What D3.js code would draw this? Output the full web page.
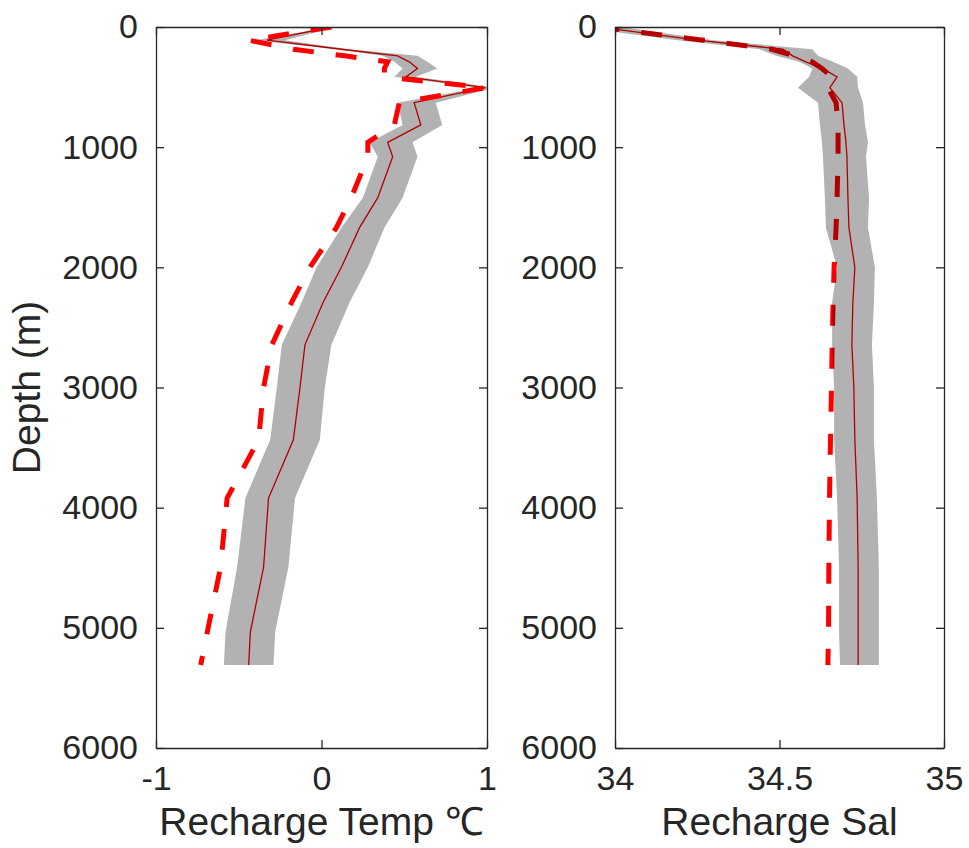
<!DOCTYPE html>
<html>
<head>
<meta charset="utf-8">
<script src="https://cdn.jsdelivr.net/npm/d3@7"></script>
<style>
    body { margin: 0; background: #fff; }
    svg text { font-family: "Liberation Sans", Arial, Helvetica, sans-serif; fill: #262626; }
</style>
</head>
<body>
<script>
// Recharge profiles vs depth

// Depth levels (m)
let depth = [0, 110, 185, 240, 290, 345, 415, 505, 630, 815, 960, 1080, 1420, 1670,
    2000, 2290, 2645, 3000, 3435, 3920, 4495, 5035, 5310];

// Recharge temperature (deg C): ensemble mean, spread band, reference (dashed)
let tempMean = [0.06, -0.33, 0.12, 0.46, 0.53, 0.58, 0.51, 0.99, 0.56, 0.60, 0.40, 0.43, 0.34, 0.23,
    0.12, 0.01, -0.10, -0.13, -0.17, -0.32, -0.35, -0.43, -0.44];
let tempLo = [0.05, -0.40, 0.08, 0.37, 0.44, 0.49, 0.44, 0.95, 0.46, 0.49, 0.29, 0.34, 0.25, 0.12,
    -0.03, -0.12, -0.24, -0.27, -0.31, -0.46, -0.51, -0.58, -0.59];
let tempHi = [0.09, -0.22, 0.17, 0.58, 0.64, 0.70, 0.57, 1.05, 0.69, 0.73, 0.55, 0.58, 0.49, 0.38,
    0.28, 0.17, 0.06, 0.02, -0.01, -0.16, -0.20, -0.28, -0.29];
let tempRef = [0.06, -0.44, -0.17, 0.14, 0.40, 0.38, 0.38, 0.99, 0.47, 0.44, 0.28, 0.28, 0.18, 0.09,
    -0.07, -0.18, -0.30, -0.35, -0.38, -0.57, -0.61, -0.69, -0.73];

// Recharge salinity: ensemble mean, spread band, reference (dashed)
let salMean = [33.95, 34.25, 34.51, 34.54, 34.58, 34.63, 34.675, 34.653, 34.69, 34.696, 34.702, 34.705, 34.708, 34.711,
    34.729, 34.723, 34.72, 34.726, 34.729, 34.736, 34.739, 34.739, 34.739];
let salLo = [33.88, 34.19, 34.44, 34.49, 34.56, 34.60, 34.59, 34.556, 34.617, 34.623, 34.629, 34.632, 34.638, 34.641,
    34.675, 34.66, 34.66, 34.666, 34.666, 34.675, 34.681, 34.681, 34.684];
let salHi = [34.02, 34.30, 34.60, 34.617, 34.663, 34.708, 34.736, 34.739, 34.754, 34.76, 34.769, 34.763, 34.772, 34.769,
    34.79, 34.787, 34.781, 34.787, 34.787, 34.796, 34.802, 34.802, 34.802];
let salRef = [33.95, 34.27, 34.477, 34.547, 34.599, 34.629, 34.66, 34.647, 34.672, 34.678, 34.678, 34.678, 34.675, 34.672,
    34.666, 34.663, 34.66, 34.658, 34.655, 34.652, 34.65, 34.649, 34.647];

// Tick labels
let depthTicks = [0, 1000, 2000, 3000, 4000, 5000, 6000];
let tempTicks = [-1, 0, 1];
let salTicks = [34, 34.5, 35];

// SVG params
let svgWidth = 969;
let svgHeight = 848;
let plotTop = 27;
let plotBottom = 748;
let axisColor = "#262626";

let svg = d3.select("body")
    .append("svg")
    .attr("width", svgWidth)
    .attr("height", svgHeight);

let yScale = d3.scaleLinear()
    .domain([0, 6000])
    .range([plotTop, plotBottom]);

// plain labels: no thousands comma, ascii hyphen for negatives
let plainFormat = d => String(d);

function drawPanel(p) {
    let xScale = d3.scaleLinear()
        .domain(p.domain)
        .range([p.left, p.right]);

    svg.append("clipPath")
        .attr("id", p.id)
        .append("rect")
        .attr("x", p.left)
        .attr("y", plotTop)
        .attr("width", p.right - p.left)
        .attr("height", plotBottom - plotTop);

    let plot = svg.append("g").attr("clip-path", `url(#${p.id})`);

    let meanLine = d3.line()
        .x((d, i) => xScale(p.mean[i]))
        .y(d => yScale(d));
    let refLine = d3.line()
        .x((d, i) => xScale(p.ref[i]))
        .y(d => yScale(d));
    let band = d3.area()
        .x0((d, i) => xScale(p.lo[i]))
        .x1((d, i) => xScale(p.hi[i]))
        .y(d => yScale(d));

    function addRef() {
        plot.append("path")
            .datum(depth)
            .attr("d", refLine)
            .attr("fill", "none")
            .attr("stroke", "#ff0000")
            .attr("stroke-width", 5)
            .attr("stroke-dasharray", "21,22")
            .attr("stroke-linejoin", "miter");
    }

    if (!p.refOnTop) addRef();

    plot.append("path")
        .datum(depth)
        .attr("d", meanLine)
        .attr("fill", "none")
        .attr("stroke", "#ff0000")
        .attr("stroke-width", 1.3);

    // spread band, drawn translucent over the lines
    plot.append("path")
        .datum(depth)
        .attr("d", band)
        .attr("fill", "#000")
        .attr("fill-opacity", 0.3);

    if (p.refOnTop) addRef();

    // Axes (box with inward ticks)
    let left = svg.append("g")
        .attr("transform", `translate(${p.left},0)`)
        .call(d3.axisLeft(yScale).tickValues(depthTicks).tickFormat(plainFormat)
            .tickSize(-8).tickSizeOuter(0).tickPadding(18));
    let bottom = svg.append("g")
        .attr("transform", `translate(0,${plotBottom})`)
        .call(d3.axisBottom(xScale).tickValues(p.ticks).tickFormat(plainFormat)
            .tickSize(-8).tickSizeOuter(0).tickPadding(18));
    let right = svg.append("g")
        .attr("transform", `translate(${p.right},0)`)
        .call(d3.axisRight(yScale).tickValues(depthTicks).tickFormat("").tickSize(-8).tickSizeOuter(0));
    let top = svg.append("g")
        .attr("transform", `translate(0,${plotTop})`)
        .call(d3.axisTop(xScale).tickValues(p.ticks).tickFormat("").tickSize(-8).tickSizeOuter(0));

    [left, bottom, right, top].forEach(a => {
        a.attr("color", axisColor);
        a.selectAll("path, line").attr("stroke-width", 1.3);
        a.selectAll("text")
            .attr("font-size", 34)
            .attr("fill", axisColor)
            .style("font-family", "'Liberation Sans', Arial, sans-serif");
    });

    // x label
    svg.append("text")
        .attr("x", (p.left + p.right) / 2)
        .attr("y", 835)
        .attr("text-anchor", "middle")
        .attr("font-size", 39)
        .text(p.label);
}

drawPanel({
    id: "clipTemp", left: 156, right: 487, domain: [-1, 1], ticks: tempTicks,
    mean: tempMean, lo: tempLo, hi: tempHi, ref: tempRef,
    label: "Recharge Temp \u2103", refOnTop: true
});

drawPanel({
    id: "clipSal", left: 615, right: 944, domain: [34, 35], ticks: salTicks,
    mean: salMean, lo: salLo, hi: salHi, ref: salRef,
    label: "Recharge Sal", refOnTop: false
});

// y label
svg.append("text")
    .attr("transform", `translate(40, ${(plotTop + plotBottom) / 2}) rotate(-90)`)
    .attr("text-anchor", "middle")
    .attr("font-size", 39)
    .text("Depth (m)");
</script>
</body>
</html>
